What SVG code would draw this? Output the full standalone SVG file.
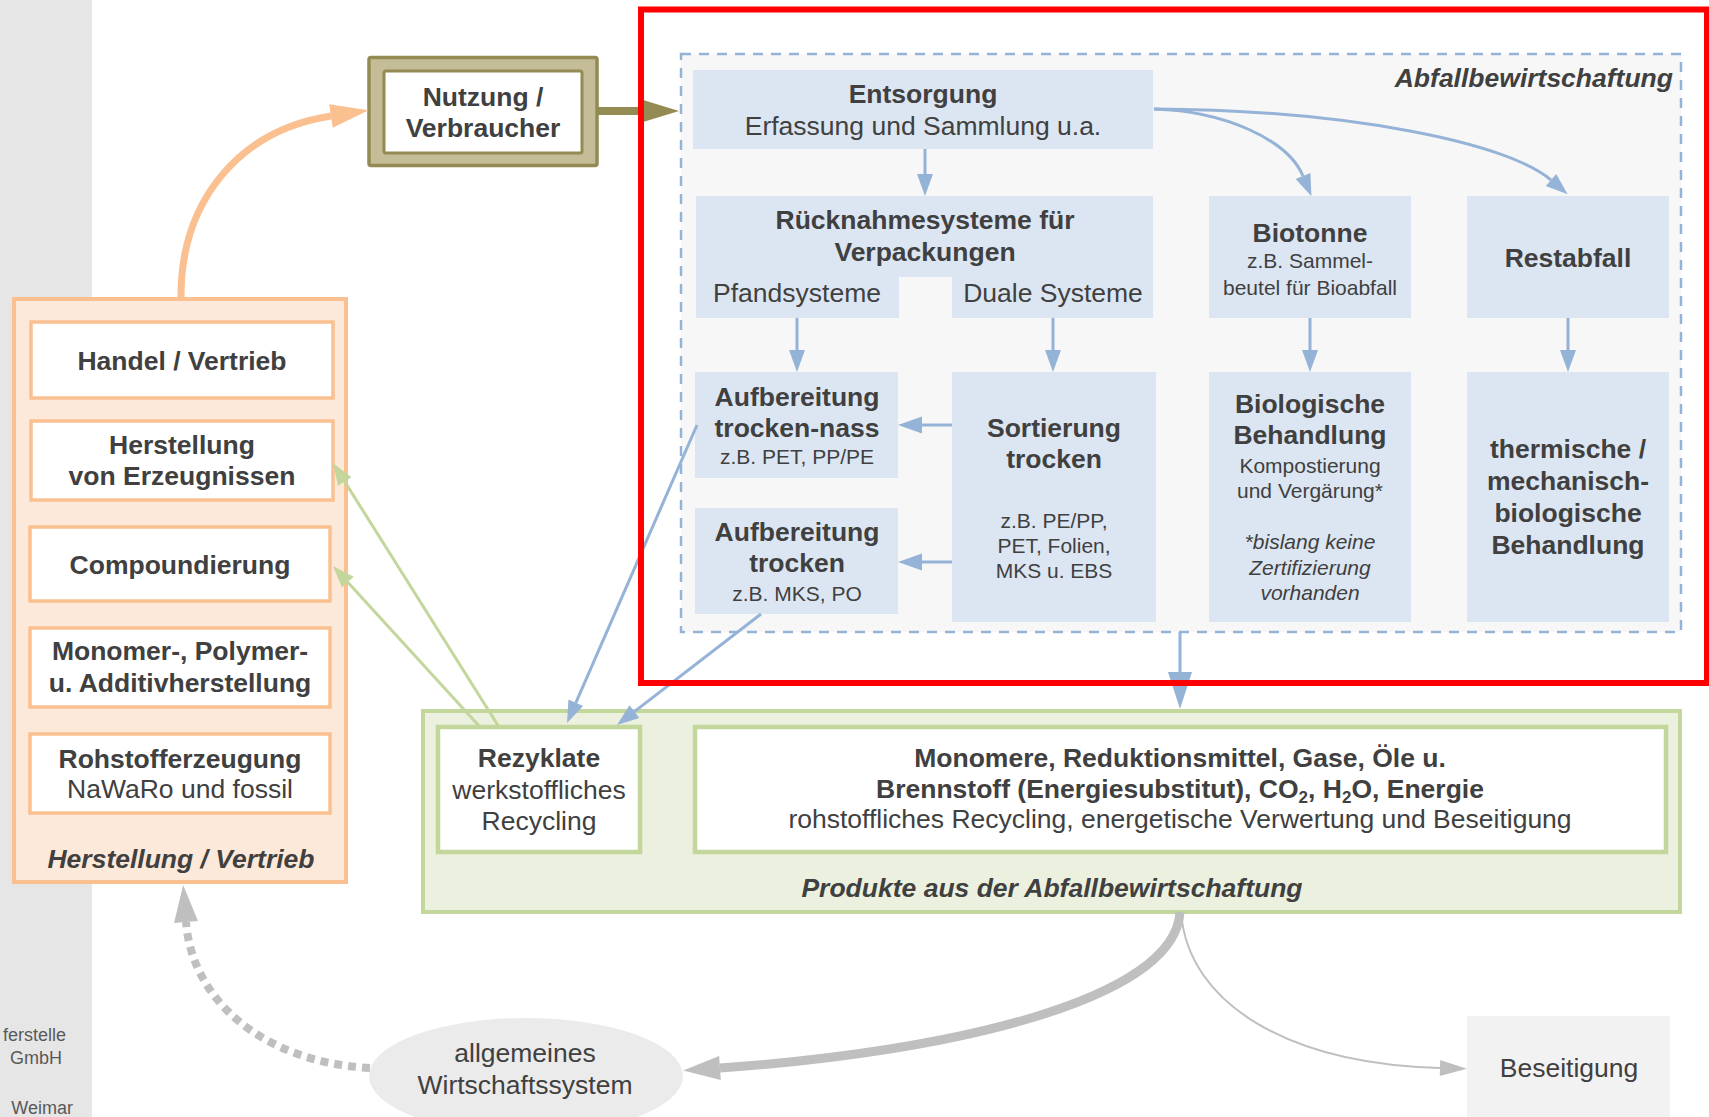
<svg xmlns="http://www.w3.org/2000/svg" width="1709" height="1117" viewBox="0 0 1709 1117">
<style>
text{font-family:"Liberation Sans",Arial,Helvetica,sans-serif;fill:#404040;text-anchor:middle}
.b{font-weight:bold;font-size:26.5px}
.r{font-size:26.5px}
.s{font-size:21px}
.si{font-size:21px;font-style:italic}
.bi{font-weight:bold;font-style:italic;font-size:26.5px}
.blue{fill:#dce6f2}
.ob{fill:#ffffff;stroke:#fac090;stroke-width:3.5}
.gb{fill:#ffffff;stroke:#c3d69b;stroke-width:4.5}
.cb{fill:none;stroke:#95b3d7;stroke-width:3}
.cg{fill:none;stroke:#c3d69b;stroke-width:3}
.side{font-size:18px;fill:#595959;text-anchor:end}
</style>
<defs>
<marker id="mOlive" markerUnits="userSpaceOnUse" orient="auto" refX="0" refY="0" markerWidth="40" markerHeight="30" overflow="visible"><path d="M0,-11 L36,0 L0,11 Z" fill="#948a54"/></marker>
<marker id="mOrange" markerUnits="userSpaceOnUse" orient="auto" refX="0" refY="0" markerWidth="40" markerHeight="30" overflow="visible"><path d="M0,-12 L38,0 L0,12 Z" fill="#fac090"/></marker>
<marker id="mBlue" markerUnits="userSpaceOnUse" orient="auto" refX="0" refY="0" markerWidth="30" markerHeight="20" overflow="visible"><path d="M0,-8 L22,0 L0,8 Z" fill="#95b3d7"/></marker>
<marker id="mBlueM" markerUnits="userSpaceOnUse" orient="auto" refX="0" refY="0" markerWidth="30" markerHeight="20" overflow="visible"><path d="M0,-8.5 L24,0 L0,8.5 Z" fill="#95b3d7"/></marker>
<marker id="mBlueL" markerUnits="userSpaceOnUse" orient="auto" refX="0" refY="0" markerWidth="40" markerHeight="30" overflow="visible"><path d="M0,-12 L37,0 L0,12 Z" fill="#95b3d7"/></marker>
<marker id="mGreen" markerUnits="userSpaceOnUse" orient="auto" refX="0" refY="0" markerWidth="30" markerHeight="20" overflow="visible"><path d="M0,-8 L22,0 L0,8 Z" fill="#c3d69b"/></marker>
<marker id="mGrayL" markerUnits="userSpaceOnUse" orient="auto" refX="0" refY="0" markerWidth="40" markerHeight="30" overflow="visible"><path d="M0,-12 L37,0 L0,12 Z" fill="#bfbfbf"/></marker>
<marker id="mGrayS" markerUnits="userSpaceOnUse" orient="auto" refX="0" refY="0" markerWidth="30" markerHeight="20" overflow="visible"><path d="M0,-8 L27,0 L0,8 Z" fill="#bfbfbf"/></marker>
</defs>
<rect width="1709" height="1117" fill="#ffffff"/>
<g id="sidebar">
<rect x="0" y="0" width="92" height="1117" fill="#e6e6e6"/>
<text class="side" x="66" y="1041">ferstelle</text>
<text class="side" x="62" y="1064">GmbH</text>
<text class="side" x="73" y="1114">Weimar</text>
</g>
<g id="nutzung">
<rect x="369" y="57.5" width="228" height="108" fill="#c4bd97" stroke="#948a54" stroke-width="3.5" rx="2"/>
<rect x="384" y="71" width="198" height="82" fill="#ffffff" stroke="#948a54" stroke-width="3" rx="2"/>
<text class="b" x="483" y="106">Nutzung /</text>
<text class="b" x="483" y="137">Verbraucher</text>
</g>
<g id="abfallbewirtschaftung">
<rect x="681" y="54" width="1000" height="578" fill="#f7f7f7" stroke="#95b3d7" stroke-width="2.5" stroke-dasharray="10 8"/>
<text class="bi" x="1673" y="87" style="text-anchor:end">Abfallbewirtschaftung</text>
</g>
<g id="entsorgung">
<rect class="blue" x="693" y="70" width="460" height="79"/>
<text class="b" x="923" y="103">Entsorgung</text>
<text class="r" x="923" y="135">Erfassung und Sammlung u.a.</text>
</g>
<g id="ruecknahme">
<path class="blue" d="M696,196 H1153 V318 H952 V277 H899 V318 H696 Z"/>
<text class="b" x="925" y="229">Rücknahmesysteme für</text>
<text class="b" x="925" y="261">Verpackungen</text>
<text class="r" x="797" y="302">Pfandsysteme</text>
<text class="r" x="1053" y="302">Duale Systeme</text>
</g>
<g id="biotonne">
<rect class="blue" x="1209" y="196" width="202" height="122"/>
<text class="b" x="1310" y="242">Biotonne</text>
<text class="s" x="1310" y="268">z.B. Sammel-</text>
<text class="s" x="1310" y="295">beutel für Bioabfall</text>
</g>
<g id="restabfall">
<rect class="blue" x="1467" y="196" width="202" height="122"/>
<text class="b" x="1568" y="267">Restabfall</text>
</g>
<g id="aufbereitung-nass">
<rect class="blue" x="695" y="372" width="203" height="106"/>
<text class="b" x="797" y="406">Aufbereitung</text>
<text class="b" x="797" y="437">trocken-nass</text>
<text class="s" x="797" y="464">z.B. PET, PP/PE</text>
</g>
<g id="aufbereitung-trocken">
<rect class="blue" x="695" y="508" width="203" height="106"/>
<text class="b" x="797" y="541">Aufbereitung</text>
<text class="b" x="797" y="572">trocken</text>
<text class="s" x="797" y="601">z.B. MKS, PO</text>
</g>
<g id="sortierung">
<rect class="blue" x="952" y="372" width="204" height="250"/>
<text class="b" x="1054" y="437">Sortierung</text>
<text class="b" x="1054" y="468">trocken</text>
<text class="s" x="1054" y="528">z.B. PE/PP,</text>
<text class="s" x="1054" y="553">PET, Folien,</text>
<text class="s" x="1054" y="578">MKS u. EBS</text>
</g>
<g id="biologisch">
<rect class="blue" x="1209" y="372" width="202" height="250"/>
<text class="b" x="1310" y="413">Biologische</text>
<text class="b" x="1310" y="444">Behandlung</text>
<text class="s" x="1310" y="473">Kompostierung</text>
<text class="s" x="1310" y="498">und Vergärung*</text>
<text class="si" x="1310" y="549">*bislang keine</text>
<text class="si" x="1310" y="575">Zertifizierung</text>
<text class="si" x="1310" y="600">vorhanden</text>
</g>
<g id="thermisch">
<rect class="blue" x="1467" y="372" width="202" height="250"/>
<text class="b" x="1568" y="458">thermische /</text>
<text class="b" x="1568" y="490">mechanisch-</text>
<text class="b" x="1568" y="522">biologische</text>
<text class="b" x="1568" y="554">Behandlung</text>
</g>
<g id="herstellung-vertrieb">
<rect x="14" y="299" width="332" height="583" fill="#fde9d9" stroke="#fac090" stroke-width="4"/>
<text class="bi" x="181" y="868">Herstellung / Vertrieb</text>
</g>
<g id="handel">
<rect class="ob" x="31" y="322" width="302" height="76"/>
<text class="b" x="182" y="370">Handel / Vertrieb</text>
</g>
<g id="erzeugnisse">
<rect class="ob" x="31" y="421" width="302" height="79"/>
<text class="b" x="182" y="454">Herstellung</text>
<text class="b" x="182" y="485">von Erzeugnissen</text>
</g>
<g id="compoundierung">
<rect class="ob" x="30" y="527" width="300" height="74"/>
<text class="b" x="180" y="574">Compoundierung</text>
</g>
<g id="monomer">
<rect class="ob" x="30" y="628" width="300" height="79"/>
<text class="b" x="180" y="660">Monomer-, Polymer-</text>
<text class="b" x="180" y="692">u. Additivherstellung</text>
</g>
<g id="rohstoff">
<rect class="ob" x="30" y="734" width="300" height="79"/>
<text class="b" x="180" y="768">Rohstofferzeugung</text>
<text class="r" x="180" y="798">NaWaRo und fossil</text>
</g>
<g id="produkte">
<rect x="423" y="711" width="1257" height="201" fill="#ebf1de" stroke="#c3d69b" stroke-width="4"/>
<text class="bi" x="1052" y="897">Produkte aus der Abfallbewirtschaftung</text>
</g>
<g id="rezyklate">
<rect class="gb" x="438" y="727" width="202" height="125"/>
<text class="b" x="539" y="767">Rezyklate</text>
<text class="r" x="539" y="799">werkstoffliches</text>
<text class="r" x="539" y="830">Recycling</text>
</g>
<g id="monomere">
<rect class="gb" x="695" y="727" width="971" height="125"/>
<text class="b" x="1180" y="767">Monomere, Reduktionsmittel, Gase, Öle u.</text>
<text class="b" x="1180" y="798">Brennstoff (Energiesubstitut), CO<tspan font-size="17" dy="5">2</tspan><tspan dy="-5">, H</tspan><tspan font-size="17" dy="5">2</tspan><tspan dy="-5">O, Energie</tspan></text>
<text class="r" x="1180" y="828">rohstoffliches Recycling, energetische Verwertung und Beseitigung</text>
</g>
<g id="beseitigung">
<rect x="1467" y="1016" width="203" height="101" fill="#f2f2f2"/>
<text class="r" x="1569" y="1077">Beseitigung</text>
</g>
<g id="wirtschaftssystem">
<ellipse cx="526" cy="1076" rx="157" ry="58" fill="#ebebeb"/>
<text class="r" x="525" y="1062">allgemeines</text>
<text class="r" x="525" y="1094">Wirtschaftssystem</text>
</g>
<g id="connectors">
<line x1="597" y1="111" x2="643" y2="111" stroke="#948a54" stroke-width="8" marker-end="url(#mOlive)"/>
<path d="M181,299 C180,200 240,130 331,116" fill="none" stroke="#fac090" stroke-width="7" marker-end="url(#mOrange)"/>
<line class="cb" x1="925" y1="149" x2="925" y2="174" marker-end="url(#mBlue)"/>
<path class="cb" d="M1154,109 C1225,111 1288,140 1303,176" stroke-width="4" marker-end="url(#mBlue)"/>
<path class="cb" d="M1154,109 C1350,110 1508,143 1551,180" stroke-width="4" marker-end="url(#mBlue)"/>
<line class="cb" x1="797" y1="318" x2="797" y2="350" marker-end="url(#mBlue)"/>
<line class="cb" x1="1053" y1="318" x2="1053" y2="350" marker-end="url(#mBlue)"/>
<line class="cb" x1="1310" y1="318" x2="1310" y2="350" marker-end="url(#mBlue)"/>
<line class="cb" x1="1568" y1="318" x2="1568" y2="350" marker-end="url(#mBlue)"/>
<line class="cb" x1="952" y1="425" x2="922" y2="425" stroke-width="5" marker-end="url(#mBlueM)"/>
<line class="cb" x1="952" y1="562" x2="922" y2="562" stroke-width="5" marker-end="url(#mBlueM)"/>
<line class="cb" x1="1180" y1="632" x2="1180" y2="672" stroke-width="10" marker-end="url(#mBlueL)"/>
<line class="cb" x1="697" y1="425" x2="575.8" y2="702.8" marker-end="url(#mBlue)"/>
<line class="cb" x1="761" y1="614" x2="634.4" y2="711.6" marker-end="url(#mBlue)"/>
<line class="cg" x1="499" y1="727" x2="344.7" y2="481.6" marker-end="url(#mGreen)"/>
<line class="cg" x1="480" y1="727" x2="347.8" y2="582.2" marker-end="url(#mGreen)"/>
<path d="M1180,912 C1175,1000 950,1052 720,1068" fill="none" stroke="#bfbfbf" stroke-width="9" marker-end="url(#mGrayL)"/>
<path d="M1181,912 C1188,1005 1290,1064 1440,1068" fill="none" stroke="#bfbfbf" stroke-width="2" marker-end="url(#mGrayS)"/>
<path d="M370,1068 C262,1062 192,1000 186,922" fill="none" stroke="#bfbfbf" stroke-width="8" stroke-dasharray="8 6" marker-end="url(#mGrayL)"/>
</g>
<g id="highlight">
<rect x="641" y="9.5" width="1066" height="673.5" fill="none" stroke="#ff0000" stroke-width="6"/>
</g>
</svg>
